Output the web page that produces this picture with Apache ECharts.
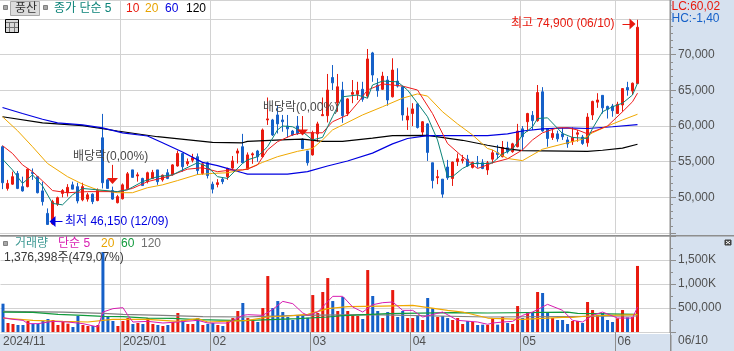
<!DOCTYPE html>
<html>
<head>
    <meta charset="utf-8">
    <script src="https://cdn.jsdelivr.net/npm/echarts@6/dist/echarts.min.js"></script>
    <style>
        html, body { margin: 0; padding: 0; background: #fff; overflow: hidden; }
    </style>
</head>

<body>
    <div id="main" style="width: 734px;height:351px;"></div>
    <script type="text/javascript">
        // 일봉 [시가, 종가, 저가, 고가]
        var candles = [
            [57100,52050,51150,57250],[51250,51950,50950,52450],[51850,52900,51750,53600],[53350,51250,51150,53700],
            [51500,50900,50800,52900],[51500,53950,51400,54050],[53500,53350,52450,54050],[52900,50650,50550,53000],
            [50900,49400,48850,52200],[47750,46200,46150,48450],[46300,49400,46150,49650],[49050,49950,48800,50100],
            [50550,50950,50000,51150],[50650,51400,50100,51850],[51750,51150,51150,52200],[51500,49500,49150,52050],
            [49650,51500,49450,52050],[49750,50350,49400,50650],[50450,49400,49050,50550],[49550,50950,49450,51250],
            [58350,52050,51250,61700],[52450,51250,51250,52550],[50950,49750,49650,51500],[49250,50100,49150,50350],
            [49800,51750,49700,51950],[51200,53300,51100,53550],[53850,52800,52800,53850],[53000,53150,52200,53500],
            [52650,51650,51600,52750],[52200,53450,51950,53600],[52650,53500,52550,53850],[53850,52200,51750,53850],
            [52450,53100,52200,53200],[53450,52650,52550,53950],[53150,54550,53050,54650],[54400,56150,54300,56550],
            [56150,54300,53600,56250],[54700,55000,54400,55450],[55200,55550,54900,56100],[55700,53750,53150,56150],
            [53350,54700,53150,54900],[54850,53050,52650,55000],[51850,51150,50550,52200],[51800,52050,51400,52550],
            [52550,52200,51850,52800],[52900,54050,52450,54150],[54100,55100,53850,55800],[56200,56500,54750,56850],
            [57100,54850,54750,58900],[53950,55950,53850,56300],[55950,56100,54700,56300],[56500,55700,55000,56650],
            [55700,59450,55600,59650],[60850,61000,60150,64000],[60850,58750,58600,61000],[61550,60300,58950,62850],
            [60850,60600,59200,61550],[60000,59600,58400,61550],[59300,58750,58600,59450],[60000,58950,58750,61400],
            [58150,56850,56750,58250],[56500,54850,54450,56500],[55950,59100,55850,59350],[58900,60300,57800,60600],
            [61450,61600,61450,64000],[61450,65050,60500,67300],[66800,66050,65050,68550],[63250,65500,62000,67300],
            [65050,61450,60450,66200],[61750,63800,61400,63900],[64450,64700,63200,66450],[64450,64950,63650,66200],
            [65150,63750,63400,66200],[64200,69400,63900,70800],[70250,67150,66200,70400],[65750,64950,64100,66700],
            [65150,67000,65050,67600],[66450,63650,62850,67000],[64100,67850,64000,69500],[66300,65600,65400,68100],
            [65500,61550,60750,65600],[60850,61400,59450,62600],[61750,62400,60000,63200],[63100,59800,59650,63200],
            [59150,60600,58600,60700],[60300,56300,55100,60400],[54850,52350,51250,54850],[52750,52900,51850,53850],
            [52550,50450,49950,52550],[54250,52750,52450,55250],[52650,54950,51600,55000],[55000,55400,54400,56150],
            [55150,55350,54750,55950],[55350,54400,54300,55950],[54200,54900,54050,55000],[54850,54700,54150,55800],
            [54850,54050,53950,55350],[53850,54850,53150,55100],[55350,56250,54750,56650],[56250,56000,55350,57350],
            [55700,57000,55600,57900],[56950,56400,56150,57800],[56400,57500,56250,57650],[57100,59300,57000,60300],
            [59600,58500,56650,60000],[60600,61750,59200,61850],[61500,60750,59450,62100],[60750,64700,60600,65750],
            [64800,59300,59200,65450],[59600,58250,57100,59650],[58400,58950,58050,59550],[58900,58200,57800,59350],
            [58900,58500,58050,59750],[58050,57500,56950,58500],[57800,58400,57350,59800],[58850,59050,57800,59450],
            [58450,57550,57350,58750],[57650,61250,57100,61800],[61550,63450,60850,63550],[63350,63650,62550,64600],
            [64300,62550,61750,64300],[62750,62350,61050,62850],[62800,62150,61300,63100],[61750,63050,61700,63400],
            [62950,65250,62000,65300],[65400,65050,64250,66200],[64900,66000,64350,66100],[65950,73850,65950,74900]
        ];

        // 거래량
        var volumes = [
            590000,187000,167000,146000,146000,229000,167000,167000,229000,271000,250000,146000,208000,174000,104000,333000,
            146000,125000,125000,146000,1666000,312000,229000,125000,229000,291000,167000,187000,167000,291000,167000,146000,
            125000,146000,208000,396000,250000,167000,167000,291000,146000,167000,187000,146000,125000,229000,291000,437000,
            604000,291000,243000,208000,500000,1166000,500000,645000,416000,312000,250000,347000,333000,298000,770000,396000,
            833000,1124000,645000,437000,729000,437000,347000,333000,271000,1291000,750000,437000,291000,416000,874000,312000,
            437000,291000,291000,333000,250000,708000,500000,312000,333000,291000,250000,291000,167000,229000,208000,146000,
            153000,146000,271000,153000,312000,187000,167000,541000,291000,396000,396000,833000,812000,396000,291000,250000,
            250000,167000,229000,229000,187000,625000,458000,354000,396000,250000,208000,285000,458000,305000,312000,1376000
        ];

        // 이동평균 [봉 번호, 값]
        var ma5 = [[0,55350],[2,53850],[3,52900],[4,51950],[6,53150],[8,51600],[10,49150],[12,48950],[14,50350],[16,51250],[19,51050],[23,50800],[25,51050],[28,52200],[31,52900],[34,53150],[36,53850],[39,54850],[41,54300],[43,52900],[45,52650],[48,54750],
            [49,55250],[51,55700],[53,57100],[55,59450],[56,60000],[58,59900],[60,59200],[62,58050],[64,58400],[66,61300],[68,64100],[71,64350],[73,63900],[74,65750],[76,66300],[79,66200],[81,65050],[83,63200],[85,61300],[87,58050],[89,52900],[90,52900],[92,54050],[94,54750],[97,54750],
            [98,54850],[100,56100],[102,56750],[104,58750],[106,59900],[107,61050],[109,61150],[112,58950],[114,58400],[117,58250],[118,59650],[120,62000],[122,62700],[124,63200],[126,64350],[127,66000]];
        var ma10 = [[0,57250],[2,56150],[4,54550],[6,53600],[8,52300],[10,50950],[13,50650],[17,50800],[23,50800],[26,51250],[29,52200],[33,52900],[37,53950],[40,54150],[43,53600],[46,53850],[48,53850],
            [49,53950],[51,54550],[53,56650],[55,57800],[58,58750],[60,59050],[64,59050],[66,60600],[69,61550],[71,63200],[73,65050],[76,65900],[80,65600],[83,65050],[86,61750],[89,57550],[92,55700],[95,54050],[97,54550],
            [98,54850],[101,55400],[104,56650],[106,58050],[108,59050],[111,59750],[113,59750],[115,59450],[117,58900],[121,60000],[124,62000],[126,63400],[127,64600]];
        var ma20 = [[0,61300],[3,59350],[6,57100],[9,54750],[13,52900],[16,51850],[19,51050],[23,50650],[26,50650],[29,51350],[32,51750],[35,52350],[39,53200],[42,53350],[45,53450],[48,53850],
            [49,54000],[52,54900],[55,55700],[59,56450],[62,56850],[64,58050],[66,59450],[72,61550],[76,62700],[80,63900],[83,64500],[85,64200],[88,62000],[91,60300],[94,58750],[97,56850],
            [98,56650],[101,55450],[104,55150],[108,56750],[113,57650],[116,58150],[118,59050],[121,60000],[124,60850],[127,61650]];
        var ma60 = [[0,62600],[4,61750],[8,60950],[11,60450],[16,60150],[20,59750],[24,59050],[29,58600],[32,57650],[36,56350],[40,54900],[43,54450],[46,53850],[48,53450],
            [49,53250],[57,53250],[61,53600],[65,54400],[69,55100],[74,56200],[78,57500],[81,58250],[85,58650],[90,58650],[97,58650],
            [101,58900],[104,59300],[108,59600],[113,59750],[117,59650],[122,59900],[127,60200]];
        var ma120 = [[0,61300],[8,60450],[16,60050],[23,59300],[31,58500],[42,57700],[48,57650],
            [49,57850],[57,58100],[60,58150],[64,57850],[68,57850],[74,58300],[78,58650],[85,58700],[92,58000],[97,57300],
            [101,56800],[104,56550],[117,56450],[120,56600],[124,56900],[127,57450]];

        // 거래량 이동평균 [봉 번호, 값]
        var vol5 = [[0,298000],[2,264000],[4,243000],[5,174000],[7,174000],[10,222000],[13,208000],[16,174000],[19,104000],[20,416000],[22,486000],[24,507000],[25,347000],[26,208000],[29,222000],[32,187000],[35,208000],[39,243000],[41,187000],[45,187000],[48,347000],
            [49,361000],[52,347000],[54,472000],[56,638000],[58,590000],[60,396000],[61,347000],[63,416000],[66,743000],[68,743000],[70,520000],[72,416000],[74,569000],[76,611000],[78,625000],[80,451000],[82,451000],[84,312000],[88,416000],[91,243000],[95,208000],[97,160000],
            [98,187000],[100,208000],[102,222000],[104,347000],[106,416000],[109,576000],[112,451000],[114,243000],[116,208000],[118,347000],[120,416000],[123,291000],[126,291000],[127,520000]];
        var vol20 = [[0,291000],[6,243000],[12,222000],[17,208000],[20,243000],[22,264000],[29,264000],[35,222000],[39,278000],[41,208000],[48,236000],
            [49,243000],[53,312000],[57,333000],[61,368000],[65,486000],[69,527000],[76,541000],[82,555000],[89,451000],[92,416000],[97,291000],
            [98,285000],[104,264000],[112,305000],[114,305000],[117,333000],[127,361000]];
        var vol60 = [[0,416000],[6,409000],[11,368000],[16,347000],[20,326000],[24,319000],[29,291000],[34,285000],[39,257000],[48,236000],
            [59,278000],[65,312000],[68,340000],[77,382000],[90,403000],[97,396000],
            [113,416000],[115,389000],[127,368000]];
        var vol120 = [[0,430000],[12,416000],[20,389000],[24,368000],[32,347000],[40,319000],[48,312000],
            [59,347000],[73,361000],[97,312000],[127,333000]];

        // 월 구분 (봉 번호, 라벨)
        var monthIndex = [0, 24, 42, 62, 82, 104, 123];
        var monthLabels = ['2024/11', '2025/01', '02', '03', '04', '05', '06'];
        var priceTicks = [50000, 55000, 60000, 65000, 70000];
        var volumeTickLabels = {500000: '500,000', 1000000: '1,000K', 1500000: '1,500K'};

        var RED = '#e8190e', BLUE = '#1560c8';
        var GRID = '#d2d2d2', AXIS = '#8e8e8e', PANEL = '#d6e1ef', LABEL = '#505050';
        var FONT = '"Liberation Sans","Noto Sans CJK KR",sans-serif';

        var categories = [];
        for (var i = 0; i < 134; i++) {
            categories.push(String(i));
        }

        function isMonth(index) {
            return monthIndex.indexOf(index) >= 0;
        }

        function lineSeries(name, data, color, width, xi, yi) {
            return {
                name: name, type: 'line', data: data, xAxisIndex: xi, yAxisIndex: yi,
                showSymbol: false, silent: true, animation: false,
                lineStyle: {color: color, width: width}
            };
        }

        function txt(x, y, text, color) {
            return {
                type: 'text', x: x, y: y, z: 100,
                style: {text: text, fill: color, font: '12px ' + FONT, verticalAlign: 'middle'}
            };
        }

        function box(x, y, w, h, fill, stroke) {
            return {
                type: 'rect', z: 99, shape: {x: x, y: y, width: w, height: h},
                style: {fill: fill, stroke: stroke || null, lineWidth: 1}
            };
        }

        function stroke(points, color) {
            return {type: 'polyline', z: 100, shape: {points: points}, style: {stroke: color, fill: null}};
        }

        var graphics = [
            // 오른쪽, 아래 패널
            {type: 'rect', z: 0, shape: {x: 671, y: 0, width: 63, height: 351}, style: {fill: PANEL}},
            {type: 'rect', z: 0, shape: {x: 0, y: 334, width: 734, height: 17}, style: {fill: PANEL}},
            {type: 'rect', z: 1, shape: {x: 0, y: 235, width: 670, height: 1.5}, style: {fill: AXIS}},
            {type: 'rect', z: 1, shape: {x: 669.5, y: 0, width: 1.5, height: 333}, style: {fill: AXIS}},
            {type: 'rect', z: 1, shape: {x: 670, y: 235, width: 64, height: 1.5}, style: {fill: AXIS}},
            {type: 'rect', z: 1, shape: {x: 670, y: 335, width: 1.5, height: 16}, style: {fill: AXIS}},
            box(671.5, 0, 62, 25, PANEL),

            // 상단 범례
            box(3.5, 5.5, 4, 4, '#a8a8a8', '#808080'),
            box(10.5, 1.5, 29, 14, '#dcdcdc', '#a8a8a8'),
            box(43.5, 5.5, 4, 4, '#a8a8a8', '#808080'),
            txt(15, 9, '풍산', '#303030'),
            txt(54, 9, '종가 단순 5', '#0b8378'),
            txt(126, 9, '10', RED),
            txt(145, 9, '20', '#e8a400'),
            txt(165, 9, '60', '#0000e0'),
            txt(186, 9, '120', '#000000'),
            box(5.5, 19.5, 13, 13, '#d8d8d8', '#000000'),
            stroke([[9.5, 22.5], [9.5, 32]], '#707070'),
            stroke([[14.5, 22.5], [14.5, 32]], '#707070'),
            stroke([[6, 22.5], [18, 22.5]], '#707070'),
            stroke([[6, 27.5], [18, 27.5]], '#707070'),

            // 현재값
            txt(671.5, 7, 'LC:60,02', RED),
            txt(671.5, 19, 'HC:-1,40', BLUE),

            // 주석
            txt(73, 157, '배당락(0,00%)', '#484848'),
            txt(263, 108, '배당락(0,00%)', '#484848'),
            txt(65, 221.5, '최저 46,150 (12/09)', '#0000e0'),
            txt(511, 24, '최고 74,900 (06/10)', RED),

            // 거래량 범례
            box(3.5, 241.5, 4, 4, '#a8a8a8', '#808080'),
            txt(15, 244, '거래량', '#3f9a94'),
            txt(58, 244, '단순 5', '#d81cb0'),
            txt(101, 244, '20', '#e8a400'),
            txt(121, 244, '60', '#119a3c'),
            txt(141, 244, '120', '#707070'),
            txt(4, 258, '1,376,398주(479,07%)', '#383838'),

            // 날짜, 아이콘
            txt(678, 341, '06/10', LABEL),
            box(725, 240, 6, 5, '#404040', '#404040'),
            stroke([[726, 241], [730, 244]], '#ffffff'),
            stroke([[730, 241], [726, 244]], '#ffffff')
        ];

        var option = {
            animation: false,
            backgroundColor: '#ffffff',
            textStyle: {fontFamily: FONT},
            graphic: graphics,
            grid: [
                {left: 0, width: 670, top: 0, height: 233},
                {left: 0, width: 670, top: 236, height: 96}
            ],
            xAxis: [
                {
                    type: 'category', gridIndex: 0, data: categories, boundaryGap: true,
                    axisLine: {show: false}, axisTick: {show: false}, axisLabel: {show: false},
                    splitLine: {show: true, interval: function (index) { return isMonth(index) && index > 0; }, lineStyle: {color: GRID, width: 1}}
                },
                {
                    type: 'category', gridIndex: 1, data: categories, boundaryGap: true,
                    axisLine: {show: false},
                    axisTick: {show: true, length: 19, interval: function (index) { return isMonth(index) && index > 0; }, lineStyle: {color: AXIS}},
                    axisLabel: {
                        show: true, interval: function (index) { return isMonth(index); }, align: 'left', margin: 4,
                        color: LABEL, fontSize: 12, fontFamily: FONT,
                        formatter: function (value, index) { return monthLabels[monthIndex.indexOf(index)]; }
                    },
                    splitLine: {show: true, interval: function (index) { return isMonth(index) && index > 0; }, lineStyle: {color: GRID, width: 1}}
                }
            ],
            yAxis: [
                {
                    type: 'value', gridIndex: 0, position: 'right', min: 45000, max: 77670, interval: 5000,
                    axisLine: {show: false},
                    axisTick: {show: true, length: 6, lineStyle: {color: AXIS}},
                    minorTick: {show: true, splitNumber: 5, length: 3, lineStyle: {color: AXIS}},
                    axisLabel: {
                        color: LABEL, fontSize: 12, fontFamily: FONT, margin: 8,
                        showMinLabel: false, showMaxLabel: false,
                        formatter: function (value) { return priceTicks.indexOf(value) >= 0 ? value.toLocaleString('en-US') : ''; }
                    },
                    splitLine: {show: true, lineStyle: {color: GRID, width: 1}}
                },
                {
                    type: 'value', gridIndex: 1, position: 'right', min: 0, max: 2000000, interval: 500000,
                    axisLine: {show: false},
                    axisTick: {show: true, length: 6, lineStyle: {color: AXIS}},
                    minorTick: {show: true, splitNumber: 2, length: 3, lineStyle: {color: AXIS}},
                    axisLabel: {
                        color: LABEL, fontSize: 12, fontFamily: FONT, margin: 8,
                        formatter: function (value) { return volumeTickLabels[value] || ''; }
                    },
                    splitLine: {show: true, lineStyle: {color: GRID, width: 1}}
                }
            ],
            series: [
                {
                    name: '일봉', type: 'candlestick', xAxisIndex: 0, yAxisIndex: 0,
                    data: candles, barWidth: 3, silent: true,
                    itemStyle: {color: RED, color0: BLUE, borderColor: RED, borderColor0: BLUE, borderWidth: 1},
                    markLine: {
                        silent: true, animation: false, label: {show: false},
                        lineStyle: {type: 'solid', width: 1},
                        data: [
                            [{coord: [22, 54550], symbol: 'none', lineStyle: {color: RED}}, {coord: [22, 52300], symbol: 'triangle', symbolSize: [11, 6]}],
                            [{coord: [60, 61400], symbol: 'none', lineStyle: {color: RED}}, {coord: [60, 59100], symbol: 'triangle', symbolSize: [11, 6]}],
                            [{coord: [12, 46600], symbol: 'none', lineStyle: {color: '#0000e0'}}, {coord: [10, 46600], symbol: 'triangle', symbolSize: [11, 6]}],
                            [{coord: [124, 74300], symbol: 'none', lineStyle: {color: RED}}, {coord: [126, 74300], symbol: 'triangle', symbolSize: [11, 6]}]
                        ]
                    }
                },
                lineSeries('MA120', ma120, '#000000', 1.2, 0, 0),
                lineSeries('MA60', ma60, '#0000e0', 1.2, 0, 0),
                lineSeries('MA20', ma20, '#f0a800', 1, 0, 0),
                lineSeries('MA10', ma10, '#ee1c1c', 1, 0, 0),
                lineSeries('MA5', ma5, '#0b8378', 1, 0, 0),
                {
                    name: '거래량', type: 'bar', xAxisIndex: 1, yAxisIndex: 1, barWidth: 3, silent: true,
                    data: volumes.map(function (v, i) {
                        return {value: v, itemStyle: {color: candles[i][1] >= candles[i][0] ? RED : BLUE}};
                    })
                },
                lineSeries('V120', vol120, '#808080', 1.2, 1, 1),
                lineSeries('V60', vol60, '#119a3c', 1.2, 1, 1),
                lineSeries('V20', vol20, '#f0a800', 1.2, 1, 1),
                lineSeries('V5', vol5, '#d81cb0', 1, 1, 1)
            ]
        };

        var myChart = echarts.init(document.getElementById('main'), null, {renderer: 'canvas'});
        myChart.setOption(option);
    </script>
</body>

</html>
